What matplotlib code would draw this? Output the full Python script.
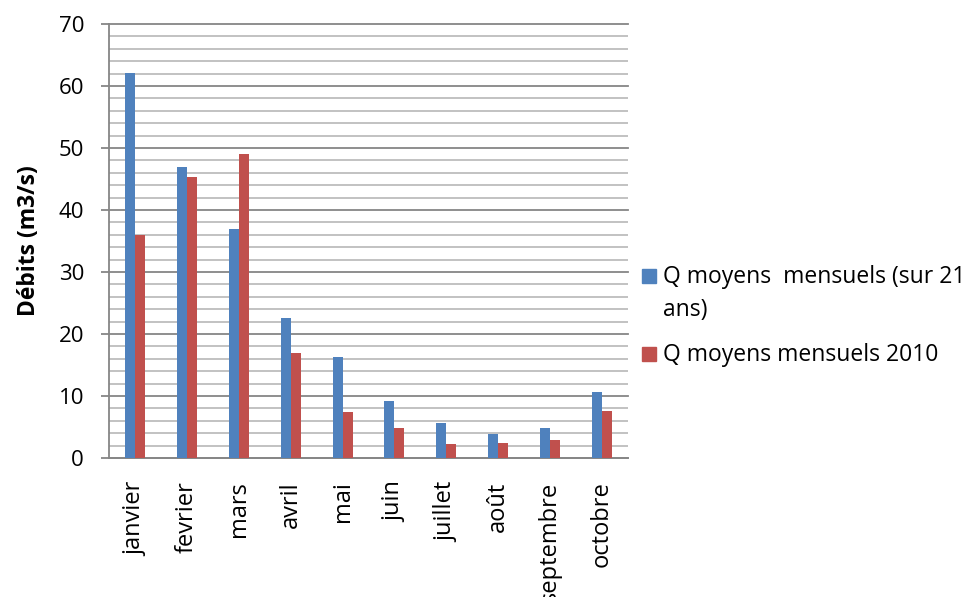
import matplotlib.pyplot as plt
import numpy as np
from matplotlib.patches import Rectangle
from matplotlib.ticker import MultipleLocator

plt.rcParams['font.family'] = ['Open Sans', 'DejaVu Sans']

# Monthly mean discharge (m3/s)
mois = ['janvier', 'fevrier', 'mars', 'avril', 'mai', 'juin',
        'juillet', 'août', 'septembre', 'octobre']
q_moyen_21ans = [62.1, 47.0, 36.9, 22.6, 16.3, 9.2, 5.6, 3.9, 4.8, 10.6]
q_moyen_2010 = [36.0, 45.3, 49.0, 16.9, 7.4, 4.9, 2.3, 2.4, 2.9, 7.6]
legende = [['Q moyens  mensuels (sur 21', 'ans)'], ['Q moyens mensuels 2010']]

bleu = '#4F81BD'
rouge = '#C0504D'
gris_axe = '#868686'

fig = plt.figure(figsize=(9.69, 5.97), dpi=100)
ax = fig.add_axes([109 / 969, 1 - 458 / 597, 519 / 969, 434 / 597])

x = np.arange(len(mois))
w = 0.193
ax.bar(x - w / 2, q_moyen_21ans, width=w, color=bleu, zorder=3)
ax.bar(x + w / 2, q_moyen_2010, width=w, color=rouge, zorder=3)

ax.set_xlim(-0.5, len(mois) - 0.5)
ax.set_ylim(0, 70)

# gridlines: major every 10, minor every 2
ax.yaxis.set_major_locator(MultipleLocator(10))
ax.yaxis.set_minor_locator(MultipleLocator(2))
ax.grid(which='major', axis='y', color=gris_axe, lw=1.3, zorder=1)
ax.grid(which='minor', axis='y', color='#bdbdbd', lw=1.3, zorder=0)
for gl in ax.yaxis.get_gridlines():
    gl.set_clip_on(False)

for s in ['top', 'right']:
    ax.spines[s].set_visible(False)
for s in ['left', 'bottom']:
    ax.spines[s].set_color(gris_axe)
    ax.spines[s].set_linewidth(1.3)

ax.tick_params(axis='y', which='major', length=6, width=1.3, color=gris_axe,
               labelsize=16, pad=12)
ax.tick_params(axis='y', which='minor', length=0)
ax.tick_params(axis='x', length=0, labelsize=17, pad=17)
ax.set_xticks(x)
ax.set_xticklabels(mois, rotation=90, va='top')

ax.set_ylabel('Débits (m3/s)', fontsize=16.5, fontweight='bold')
ax.yaxis.set_label_coords(-68 / 519, 0.5)

# legend drawn in figure pixels: square + text lines (baselines)
W, H = 969, 597
entrees = [(bleu, legende[0], 283), (rouge, legende[1], 361)]
for couleur, lignes, base in entrees:
    fig.add_artist(Rectangle((642 / W, 1 - base / H), 14 / W, 14 / H,
                             transform=fig.transFigure, color=couleur))
    for i, ligne in enumerate(lignes):
        fig.text(663 / W, 1 - (base + 33 * i) / H, ligne, fontsize=16.5,
                 va='baseline', ha='left')

fig.savefig('out.png', dpi=100)
